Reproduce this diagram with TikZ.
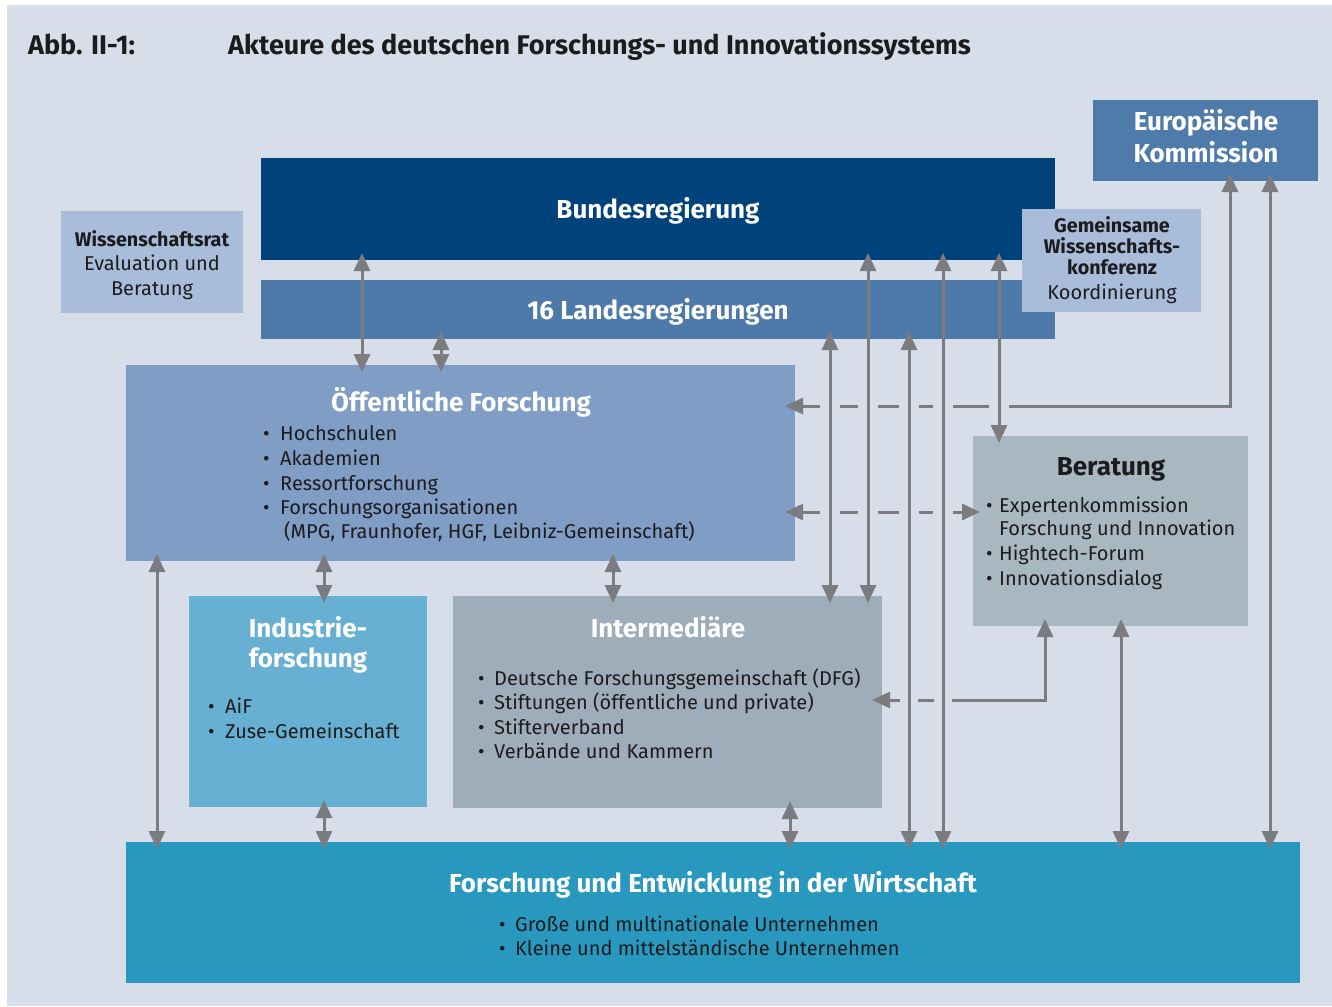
\documentclass[tikz,border=0pt]{standalone}
\usepackage{fontspec}
\setmainfont{Fira Sans}
\usetikzlibrary{arrows.meta}
\definecolor{bg}{HTML}{D7DEE9}
\definecolor{cbund}{HTML}{00427B}
\definecolor{cland}{HTML}{4E7AA9}
\definecolor{ceu}{HTML}{4F7BAB}
\definecolor{clight}{HTML}{A9BCD9}
\definecolor{coef}{HTML}{7F9DC5}
\definecolor{cber}{HTML}{A9B7C1}
\definecolor{cind}{HTML}{68B0D3}
\definecolor{cint}{HTML}{9EADB9}
\definecolor{cfue}{HTML}{2898BF}
\definecolor{cgray}{HTML}{7B7B80}
\definecolor{ctext}{HTML}{1C1C1E}
\newcommand\fsTitle{\fontsize{27}{31}\selectfont\bfseries}
\newcommand\fsHead{\fontsize{26}{30}\selectfont\bfseries}
\newcommand\fsSmallHead{\fontsize{19.7}{22}\selectfont\bfseries}
\newcommand\fsBody{\fontsize{20}{24}\selectfont}
\newcommand\bul[1]{\makebox[#1][l]{\raisebox{4.2pt}{\rule{0pt}{0pt}\kern1pt{\fontsize{20}{20}\selectfont\raisebox{-4.2pt}{•}}}}}
\tikzset{
  box/.style={draw=none, fill=#1, inner sep=0pt, outer sep=0pt, anchor=north west},
  conn/.style={draw=cgray, line width=3pt,
    {Triangle[length=18pt,width=16pt]}-{Triangle[length=18pt,width=16pt]},
    shorten <=-7pt, shorten >=-7pt},
  hconn/.style={conn, shorten >=-10pt},
  ttl/.style={text=ctext, font=\fsTitle, inner sep=0pt, anchor=base west},
  head/.style={text=white, font=\fsHead, inner sep=0pt, anchor=base},
  dhead/.style={text=ctext, font=\fsHead, inner sep=0pt, anchor=base},
  shead/.style={text=ctext, font=\fsSmallHead, inner sep=0pt, anchor=base},
  sbody/.style={text=ctext, font=\fsBody, inner sep=0pt, anchor=base},
  item/.style={text=ctext, font=\fsBody, inner sep=0pt, anchor=base west},
  gap/.style={fill=bg}
}
\begin{document}
\begin{tikzpicture}[x=1pt,y=-1pt]
\useasboundingbox (0,0) rectangle (1332,1006);
\fill[white] (0,0) rectangle (1332,1006);
\fill[bg] (7,5) rectangle (1332,1006);

% title
\node[ttl] (t1) at (28,55) {Abb. II-1:};
\node[ttl] (t2) at (228,55) {Akteure des deutschen Forschungs- und Innovationssystems};

% boxes
\node[box=ceu, minimum width=225pt, minimum height=81pt] (eu) at (1093,100) {};
\node[box=cbund, minimum width=794pt, minimum height=102pt] (bund) at (261,158) {};
\node[box=cland, minimum width=794pt, minimum height=59pt] (land) at (261,280) {};
\node[box=clight, minimum width=179pt, minimum height=103pt] (gwk) at (1022,209) {};
\node[box=clight, minimum width=182pt, minimum height=102pt] (wr) at (61,211) {};
\node[box=coef, minimum width=669pt, minimum height=196pt] (oef) at (126,365) {};
\node[box=cber, minimum width=275pt, minimum height=190pt] (ber) at (973,436) {};
\node[box=cind, minimum width=238pt, minimum height=211pt] (ind) at (189,596) {};
\node[box=cint, minimum width=429pt, minimum height=212pt] (int) at (453,596) {};
\node[box=cfue, minimum width=1174pt, minimum height=141pt] (fue) at (126,842) {};

% texts
\node[head] (eu1) at (1206,131) {Europäische};
\node[head] (eu2) at (1206,162) {Kommission};
\node[head] (bundt) at (658,218) {Bundesregierung};
\node[head] (landt) at (658,319) {16 Landesregierungen};
\node[shead] (gwk1) at (1112,232) {Gemeinsame};
\node[shead] (gwk2) at (1112,253) {Wissenschafts-};
\node[shead] (gwk3) at (1112,274) {konferenz};
\node[sbody] (gwk4) at (1112,299) {Koordinierung};
\node[shead] (wr1) at (152,246) {Wissenschaftsrat};
\node[sbody] (wr2) at (152,270) {Evaluation und};
\node[sbody] (wr3) at (152,295) {Beratung};

\node[head] (oeft) at (461,411) {Öffentliche Forschung};
\node[item] (oef1) at (262,440) {\bul{18pt}Hochschulen};
\node[item] (oef2) at (262,465) {\bul{18pt}Akademien};
\node[item] (oef3) at (262,490) {\bul{18pt}Ressortforschung};
\node[item] (oef4) at (262,514) {\bul{18pt}Forschungsorganisationen};
\node[item] (oef5) at (284,538) {(MPG, Fraunhofer, HGF, Leibniz-Gemeinschaft)};

\node[dhead] (bert) at (1111,475) {Beratung};
\node[item] (ber1) at (985,512) {\bul{14pt}Expertenkommission};
\node[item] (ber2) at (999,535) {Forschung und Innovation};
\node[item] (ber3) at (985,560) {\bul{14pt}Hightech-Forum};
\node[item] (ber4) at (985,585) {\bul{14pt}Innovationsdialog};

\node[head] (ind1) at (308,637) {Industrie-};
\node[head] (ind2) at (308,667) {forschung};
\node[item] (ind3) at (207,713) {\bul{18pt}AiF};
\node[item] (ind4) at (207,738) {\bul{18pt}Zuse-Gemeinschaft};

\node[head] (intt) at (668,637) {Intermediäre};
\node[item] (int1) at (477,685) {\bul{17pt}Deutsche Forschungsgemeinschaft (DFG)};
\node[item] (int2) at (477,709) {\bul{17pt}Stiftungen (öffentliche und private)};
\node[item] (int3) at (477,734) {\bul{17pt}Stifterverband};
\node[item] (int4) at (477,758) {\bul{17pt}Verbände und Kammern};

\node[head] (fuet) at (713,892) {Forschung und Entwicklung in der Wirtschaft};
\node[item] (fue1) at (498,931) {\bul{17pt}Große und multinationale Unternehmen};
\node[item] (fue2) at (498,955) {\bul{17pt}Kleine und mittelständische Unternehmen};

% horizontal connectors (with gaps at crossings)
\coordinate (c1) at (1230,406);
\coordinate (c2) at (1045,700);
\draw[hconn] (1230,0 |- eu.south) -- (c1) -- (oef.east |- c1);
\draw[hconn, shorten <=-7pt] (ber.west |- 0,512) -- (oef.east |- 0,512);
\draw[hconn] (1045,0 |- ber.south) -- (c2) -- (int.east |- c2);
\foreach \x in {830,868,909,943,999} \fill[gap] (\x-10,402) rectangle (\x+10,410);
\foreach \x in {830,868,909,943} \fill[gap] (\x-10,508) rectangle (\x+10,516);
\foreach \x in {909,943} \fill[gap] (\x-9,696) rectangle (\x+9,704);

% vertical connectors
\draw[conn] (362,0 |- bund.south) -- (362,0 |- oef.north);
\draw[conn] (441,0 |- land.south) -- (441,0 |- oef.north);
\draw[conn] (157,0 |- oef.south) -- (157,0 |- fue.north);
\draw[conn] (324,0 |- oef.south) -- (324,0 |- ind.north);
\draw[conn] (613,0 |- oef.south) -- (613,0 |- int.north);
\draw[conn] (324,0 |- ind.south) -- (324,0 |- fue.north);
\draw[conn] (790,0 |- int.south) -- (790,0 |- fue.north);
\draw[conn] (830,0 |- land.south) -- (830,0 |- int.north);
\draw[conn] (868,0 |- bund.south) -- (868,0 |- int.north);
\draw[conn] (909,0 |- land.south) -- (909,0 |- fue.north);
\draw[conn] (943,0 |- bund.south) -- (943,0 |- fue.north);
\draw[conn] (999,0 |- bund.south) -- (999,0 |- ber.north);
\draw[conn] (1121,0 |- ber.south) -- (1121,0 |- fue.north);
\draw[conn] (1270,0 |- eu.south) -- (1270,0 |- fue.north);
\end{tikzpicture}
\end{document}
